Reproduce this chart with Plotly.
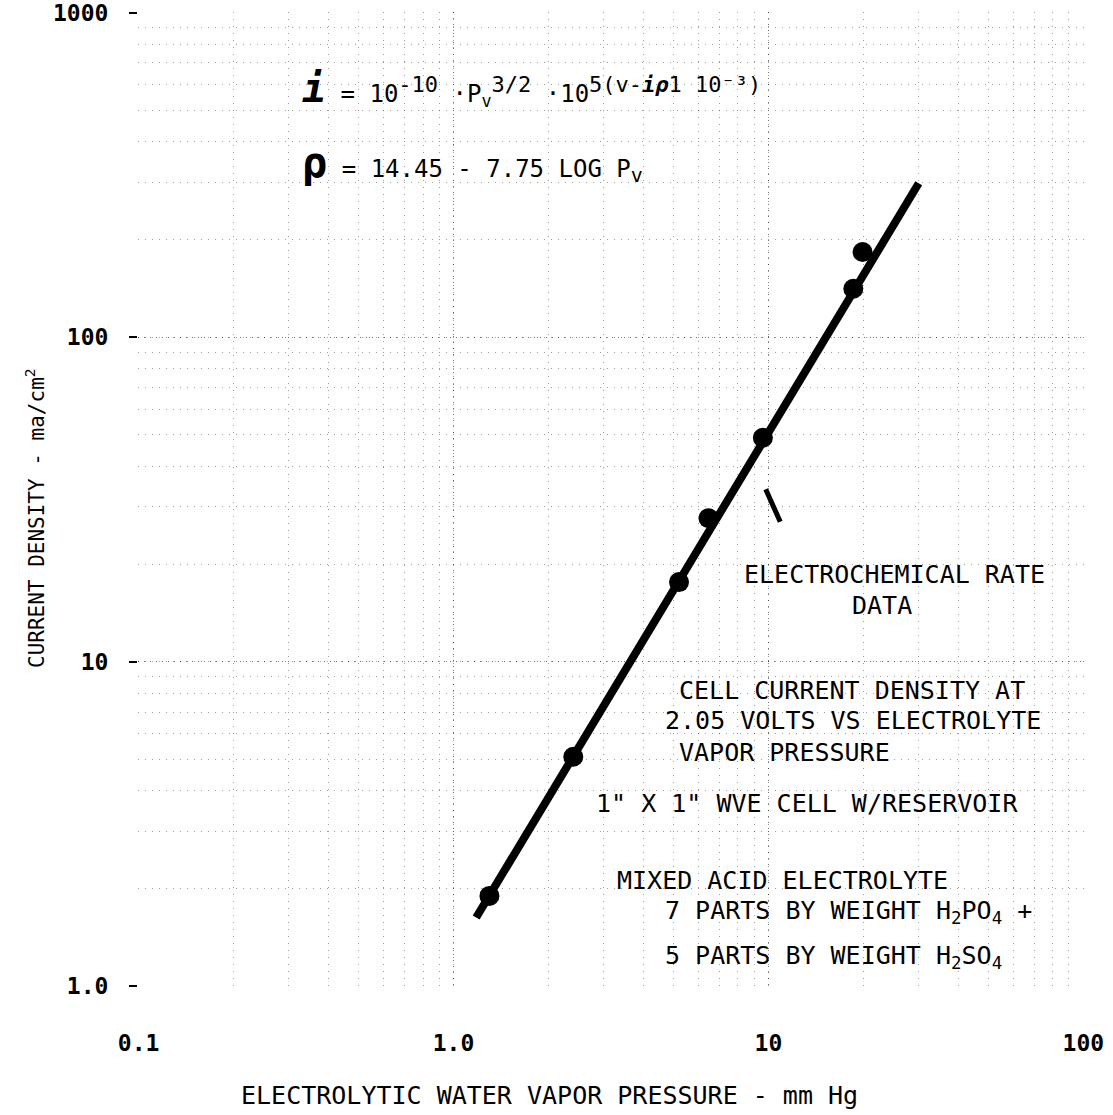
import plotly.graph_objects as go

# ---- data ----
pressure_pts = [1.3, 2.4, 5.2, 6.45, 9.6, 18.6, 19.9]      # mm Hg
current_pts = [1.9, 5.1, 17.6, 27.7, 49, 141, 183]          # ma/cm^2
fit_pressure = [1.18, 30]
fit_current = [1.63, 298]
pointer_pressure = [9.8, 10.9]
pointer_current = [34, 27]

x_tickvals = [0.1, 1, 10, 100]
x_ticktext = ["0.1", "1.0", "10", "100"]
y_tickvals = [1, 10, 100, 1000]
y_ticktext = ["1.0", "10", "100", "1000"]

# ---- layout geometry (pixels) ----
W, H = 1113, 1115
L, R, T, B = 138, 29, 12, 128
PW, PH = W - L - R, H - T - B
FONT = "DejaVu Sans Mono"


def px(x):
    return (x - L) / PW


def py(y):
    return (H - B - y) / PH


fig = go.Figure()

fig.add_trace(go.Scatter(x=fit_pressure, y=fit_current, mode="lines",
                         line=dict(color="black", width=8), hoverinfo="skip",
                         showlegend=False))
fig.add_trace(go.Scatter(x=pressure_pts, y=current_pts, mode="markers",
                         marker=dict(color="black", size=20, symbol="circle"),
                         showlegend=False))
fig.add_trace(go.Scatter(x=pointer_pressure, y=pointer_current, mode="lines",
                         line=dict(color="black", width=5), hoverinfo="skip",
                         showlegend=False))

grid_major = dict(showgrid=True, gridcolor="rgba(0,0,0,0.55)", gridwidth=1,
                  griddash="1px,5px")
minor = dict(dtick="D1", showgrid=True, gridcolor="rgba(0,0,0,0.38)",
             gridwidth=1, griddash="1px,6px", ticks="")

fig.update_xaxes(type="log", range=[-1.002, 2.002], tickvals=x_tickvals,
                 ticktext=x_ticktext, ticks="", showline=False, zeroline=False,
                 tickfont=dict(family=FONT, size=23, color="black", weight="bold"),
                 ticklabelstandoff=40, ticklabeloverflow="allow", automargin=False,
                 minor=minor, **grid_major)
fig.update_yaxes(type="log", range=[-0.002, 3.002], tickvals=y_tickvals,
                 ticktext=y_ticktext, ticks="outside", ticklen=8, tickwidth=2,
                 tickcolor="black", showline=False, zeroline=False,
                 tickfont=dict(family=FONT, size=23, color="black", weight="bold"),
                 ticklabelstandoff=16, ticklabeloverflow="allow", automargin=False,
                 minor=minor, **grid_major)

ann = []


def text(x, y, s, size=25, anchor="left", angle=0):
    ann.append(dict(xref="paper", yref="paper", x=px(x), y=py(y), text=s,
                    showarrow=False, xanchor=anchor, yanchor="middle",
                    textangle=angle,
                    font=dict(family=FONT, size=size, color="black")))


# axis titles
text(549, 1095, "ELECTROLYTIC WATER VAPOR PRESSURE - mm Hg", 25, "center")
text(35, 518, "CURRENT DENSITY - ma/cm<sup>2</sup>", 21, "center", -90)

# equations
text(300, 88,
     "<b><i><span style='font-size:40px'>i</span></i></b> = 10"
     "<sup><span style='font-size:22px'>-10</span></sup> ·P<sub>v</sub>"
     "<sup><span style='font-size:22px'>3/2</span></sup> ·10"
     "<sup><span style='font-size:22px'>5(v-<b><i>iρ</i></b>1 10⁻³)</span></sup>", 24)
text(300, 162,
     "<b><span style='font-size:42px'>ρ</span></b> = 14.45 - 7.75 LOG P"
     "<sub><span style='font-size:20px'>v</span></sub>", 24)

# right-hand notes
text(742, 574, "ELECTROCHEMICAL RATE")
text(850, 605, "DATA")
text(677, 690, "CELL CURRENT DENSITY AT")
text(663, 720, "2.05 VOLTS VS ELECTROLYTE")
text(677, 752, "VAPOR PRESSURE")
text(594, 803, "1\" X 1\" WVE CELL W/RESERVOIR")
text(615, 880, "MIXED ACID ELECTROLYTE")
text(663, 912, "7 PARTS BY WEIGHT H<sub>2</sub>PO<sub>4</sub> +")
text(663, 957, "5 PARTS BY WEIGHT H<sub>2</sub>SO<sub>4</sub>")

fig.update_layout(width=W, height=H,
                  margin=dict(l=L, r=R, t=T, b=B, pad=0, autoexpand=False),
                  paper_bgcolor="white", plot_bgcolor="white",
                  showlegend=False, annotations=ann)

fig.write_html("out.html")
